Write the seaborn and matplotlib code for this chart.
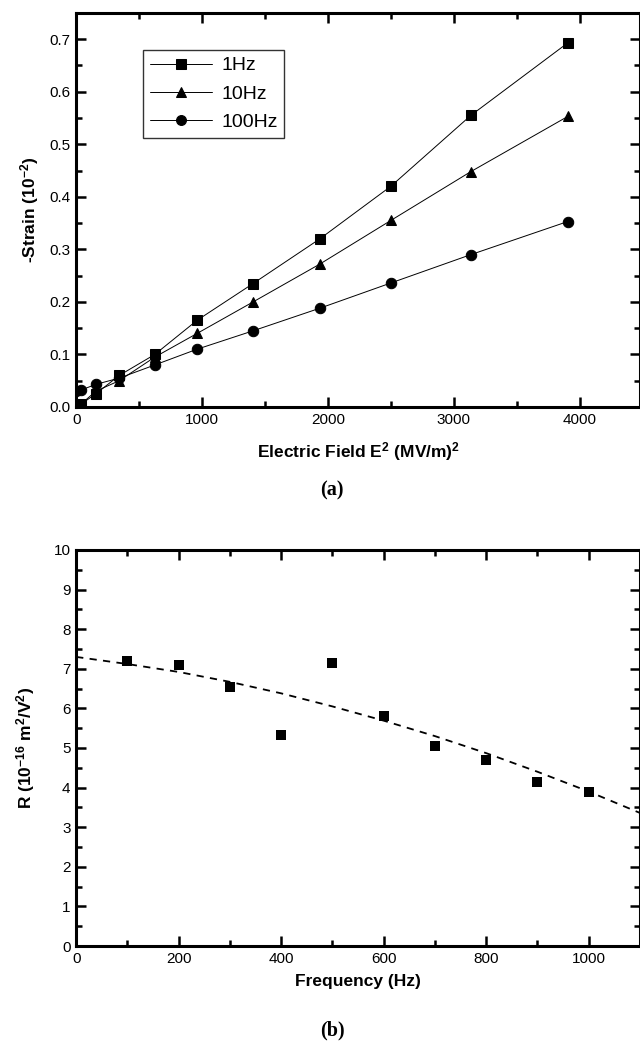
import numpy as np
import pandas as pd
import matplotlib
matplotlib.use('Agg')
import matplotlib.pyplot as plt
import seaborn as sns
from matplotlib.ticker import MultipleLocator

# (a) strain vs E^2
e_sq = [0, 36, 156, 342, 625, 961, 1406, 1936, 2500, 3136, 3906]
strain_1hz = [0.0, 0.005, 0.025, 0.06, 0.10, 0.165, 0.235, 0.32, 0.42, 0.555, 0.693]
strain_10hz = [0.0, 0.005, 0.03, 0.05, 0.095, 0.14, 0.20, 0.272, 0.355, 0.448, 0.553]
strain_100hz = [0.03, 0.032, 0.043, 0.055, 0.08, 0.11, 0.145, 0.188, 0.236, 0.29, 0.353]
series_names = ['1Hz', '10Hz', '100Hz']
series_markers = ['s', '^', 'o']

# (b) R vs frequency
freq = [100, 200, 300, 400, 500, 600, 700, 800, 900, 1000]
r_vals = [7.2, 7.1, 6.55, 5.33, 7.15, 5.8, 5.05, 4.7, 4.15, 3.9]
fit_freq = [0, 100, 200, 300, 400, 500, 600, 700, 800, 900, 1000, 1100]
fit_r = [7.30, 7.12, 6.92, 6.67, 6.38, 6.05, 5.69, 5.30, 4.87, 4.40, 3.90, 3.36]

sns.set_theme(style='white')
plt.rcParams['font.family'] = ['Liberation Sans', 'DejaVu Sans']
plt.rcParams['mathtext.fontset'] = 'custom'
plt.rcParams['mathtext.rm'] = 'Liberation Sans:bold'
plt.rcParams['mathtext.bf'] = 'Liberation Sans:bold'
plt.rcParams['mathtext.default'] = 'bf'
plt.rcParams['axes.unicode_minus'] = False
for k in ['text.color', 'axes.labelcolor', 'xtick.color', 'ytick.color', 'axes.edgecolor']:
    plt.rcParams[k] = 'black'

fig = plt.figure(figsize=(6.4, 10.53), dpi=100)
ax1 = fig.add_axes([0.119, 0.6135, 0.881, 0.3742])
ax2 = fig.add_axes([0.119, 0.1016, 0.881, 0.3761])

df_a = pd.DataFrame({
    'E2': e_sq * 3,
    'strain': strain_1hz + strain_10hz + strain_100hz,
    'freq': sum([[n] * len(e_sq) for n in series_names], []),
})

for name, mk in zip(series_names, series_markers):
    sub = df_a[df_a['freq'] == name]
    sns.lineplot(data=sub, x='E2', y='strain', ax=ax1, color='black', lw=0.7,
                 marker=mk, markersize=7.5, markeredgecolor='black',
                 markerfacecolor='black', label=name)

ax1.set_xlim(0, 4480)
ax1.set_ylim(0, 0.75)
ax1.xaxis.set_major_locator(MultipleLocator(1000))
ax1.xaxis.set_minor_locator(MultipleLocator(500))
ax1.yaxis.set_minor_locator(MultipleLocator(0.05))
ax1.set_yticks(np.arange(0, 0.71, 0.1))
ax1.set_yticklabels([f'{v:.1f}' for v in np.arange(0, 0.71, 0.1)])
ax1.set_xlabel('Electric Field E$^{2}$ (MV/m)$^{2}$', fontsize=12.5, fontweight='bold', labelpad=10)
ax1.set_ylabel('-Strain (10$^{-2}$)', fontsize=12.5, fontweight='bold', labelpad=6)

leg = ax1.legend(loc='upper left', bbox_to_anchor=(0.119, 0.906), frameon=True,
                 fancybox=False, fontsize=14, handlelength=3.2, handletextpad=0.45,
                 borderpad=0.35, labelspacing=0.55, borderaxespad=0, markerscale=0.95)
leg.get_frame().set_edgecolor('black')
leg.get_frame().set_linewidth(1.0)

# (b)
sns.scatterplot(x=freq, y=r_vals, ax=ax2, marker='s', s=52, color='black',
                edgecolor='black', linewidth=0, zorder=3)
sns.lineplot(x=fit_freq, y=fit_r, ax=ax2, color='black', lw=1.3, linestyle=(0, (4, 3.5)))
ax2.set_xlim(0, 1100)
ax2.set_ylim(0, 10)
ax2.xaxis.set_major_locator(MultipleLocator(200))
ax2.xaxis.set_minor_locator(MultipleLocator(100))
ax2.yaxis.set_major_locator(MultipleLocator(1))
ax2.yaxis.set_minor_locator(MultipleLocator(0.5))
ax2.set_xlabel('Frequency (Hz)', fontsize=12.5, fontweight='bold', labelpad=6)
ax2.set_ylabel('R (10$^{-16}$ m$^{2}$/V$^{2}$)', fontsize=12.5, fontweight='bold', labelpad=12)

for ax in (ax1, ax2):
    for sp in ax.spines.values():
        sp.set_visible(True)
        sp.set_linewidth(2.2)
        sp.set_color('black')
    ax.tick_params(which='both', direction='in', top=True, right=True,
                   bottom=True, left=True, colors='black', labelsize=11, width=1.8)
    ax.tick_params(which='major', length=7)
    ax.tick_params(which='minor', length=4)
    ax.tick_params(axis='both', which='major', pad=4)

fig.text(0.519, 0.534, '(a)', ha='center', va='center', fontsize=14.5,
         fontweight='bold', family='Liberation Serif')
fig.text(0.519, 0.021, '(b)', ha='center', va='center', fontsize=14.5,
         fontweight='bold', family='Liberation Serif')

fig.savefig('out.png', dpi=100)
